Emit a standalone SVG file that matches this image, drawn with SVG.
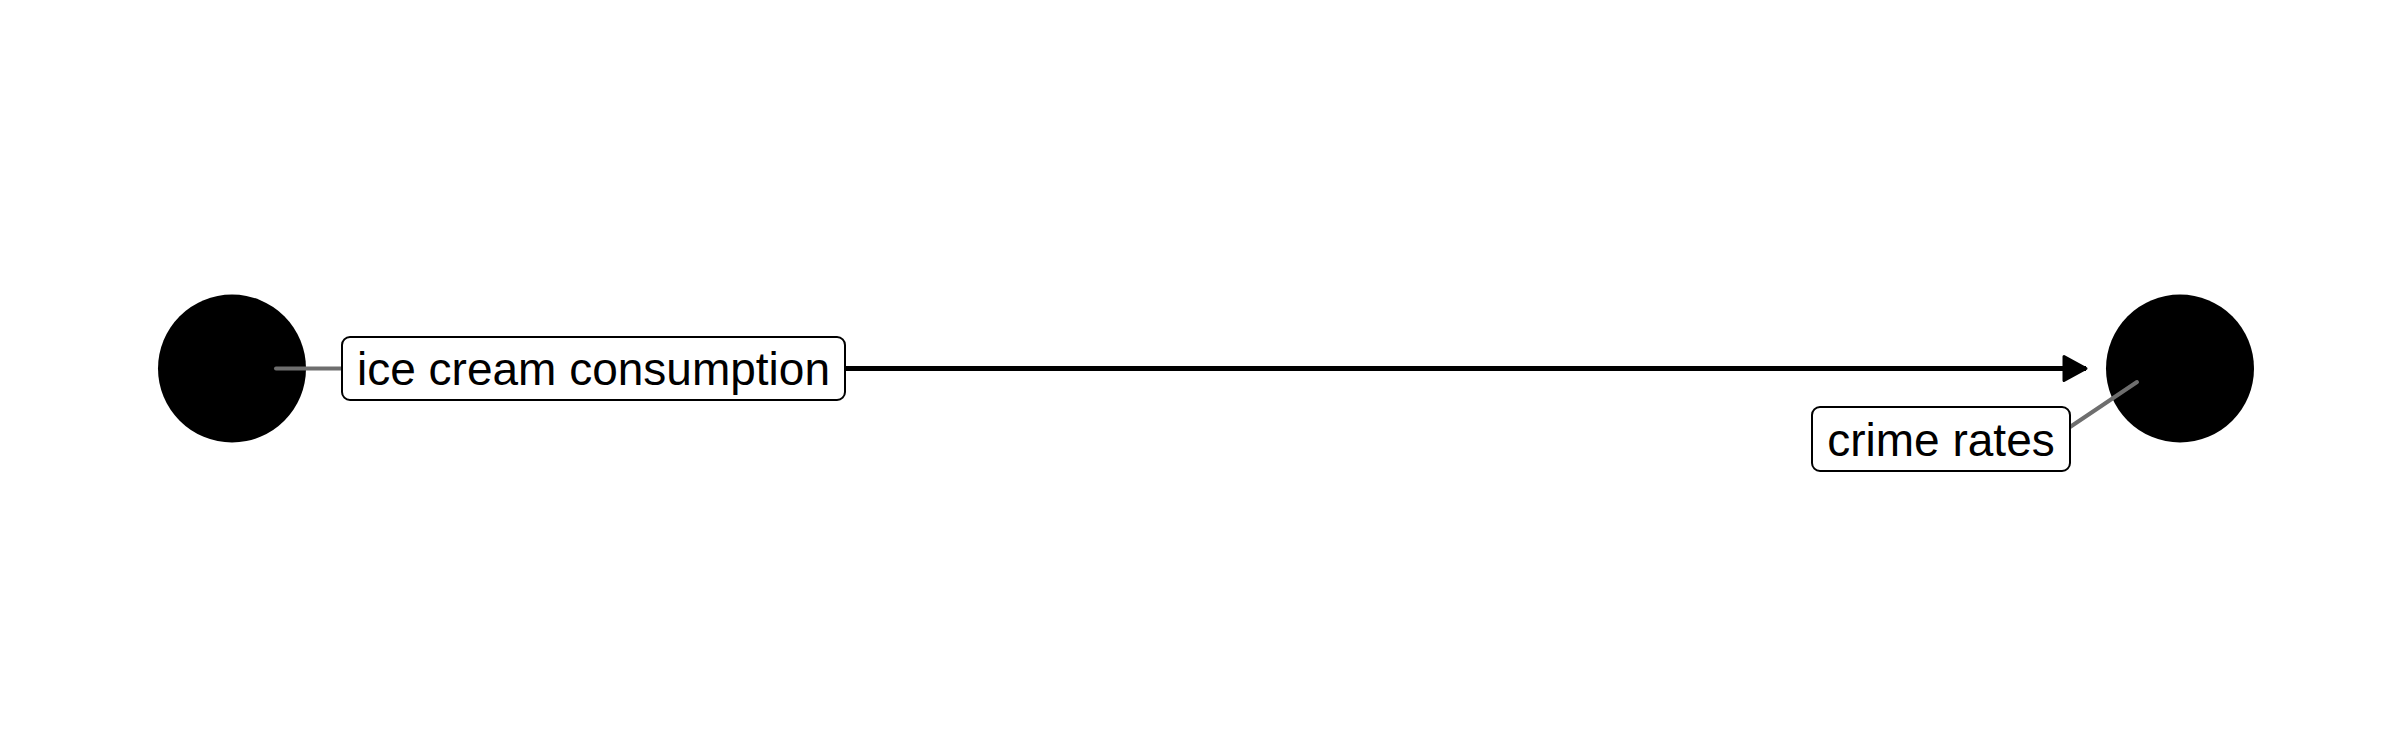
<svg xmlns="http://www.w3.org/2000/svg" width="2400" height="750" viewBox="0 0 2400 750">
<style>
.node{fill:#000}
.lbl{fill:#fff;stroke:#000;stroke-width:2}
.txt{font-family:"Liberation Sans",Arial,sans-serif;font-size:46px;fill:#000;text-anchor:middle;dominant-baseline:central}
.lead{stroke:#6e6e6e;stroke-width:4;stroke-linecap:round;fill:none}
.edge{stroke:#000;stroke-width:5;fill:none}
</style>
<defs>
<marker id="arr" markerUnits="userSpaceOnUse" markerWidth="30" markerHeight="30" refX="22" refY="12" orient="auto" viewBox="-2 -2 30 30">
<path d="M0,0 L22,12 L0,24 Z" fill="#000" stroke="#000" stroke-width="3" stroke-linejoin="round"/>
</marker>
</defs>
<rect width="2400" height="750" fill="#fff"/>
<g id="connectors">
<line class="edge" x1="845" y1="368.5" x2="2086" y2="368.5" marker-end="url(#arr)"/>
</g>
<g id="node-ice-cream">
<circle class="node" cx="232" cy="368.5" r="74"/>
<line class="lead" x1="276" y1="368.5" x2="342" y2="368.5"/>
<rect class="lbl" x="342" y="337" width="503" height="63" rx="8"/>
<text class="txt" x="593.5" y="369">ice cream consumption</text>
</g>
<g id="node-crime">
<circle class="node" cx="2180" cy="368.5" r="74"/>
<line class="lead" x1="2137" y1="382" x2="2070" y2="427"/>
<rect class="lbl" x="1812" y="407" width="258" height="64" rx="8"/>
<text class="txt" x="1941" y="439.5">crime rates</text>
</g>
</svg>
